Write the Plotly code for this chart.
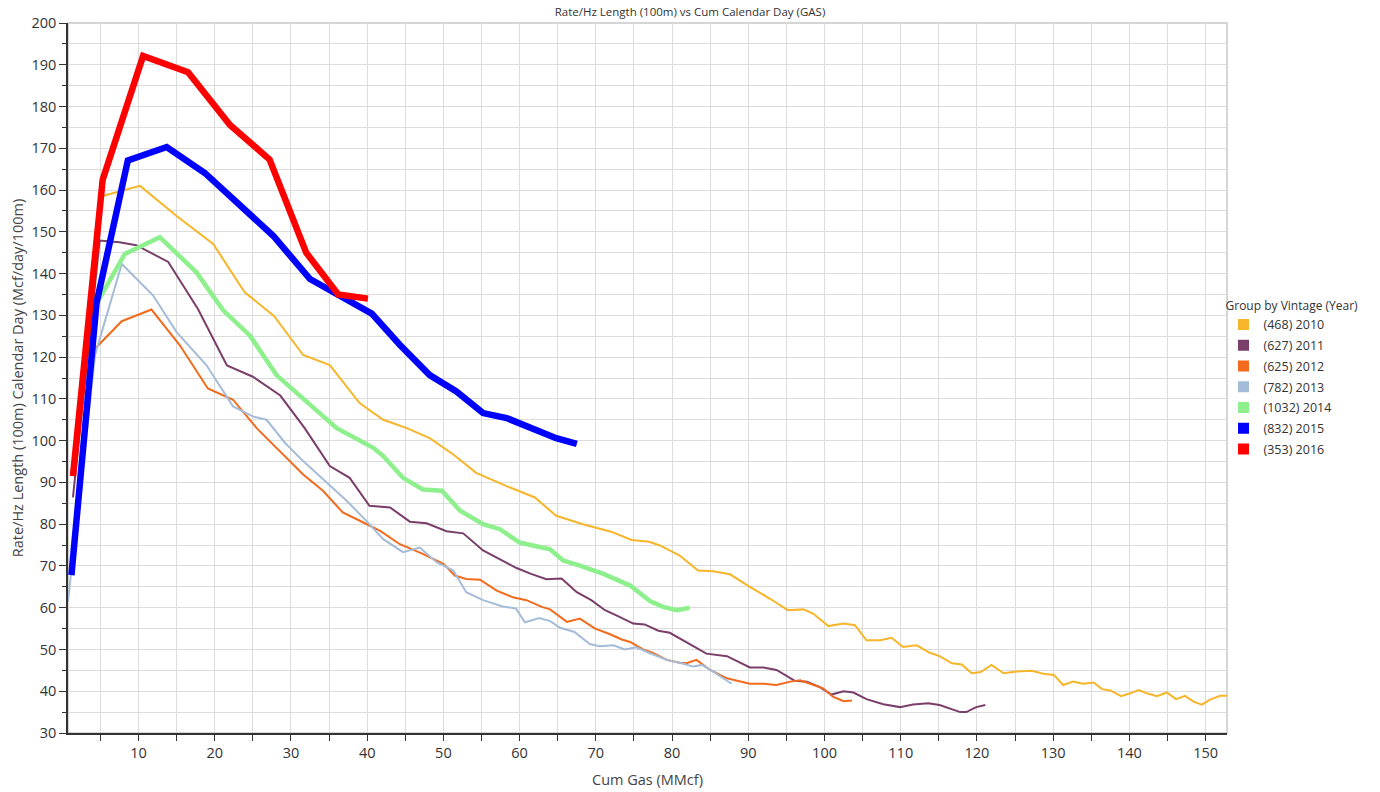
import plotly.graph_objects as go

# ---- data ----
names = ["(468) 2010", "(627) 2011", "(625) 2012", "(782) 2013", "(1032) 2014", "(832) 2015", "(353) 2016"]
colors = ["#F7B52A", "#7A3E6A", "#F26B1D", "#A5BCD8", "#8DF08D", "#0000FF", "#FF0000"]
widths = [2, 2, 2, 2, 4.5, 6.5, 6.5]

x2010 = [5.3, 10.2, 15.0, 19.8, 23.9, 27.8, 31.6, 35.1, 39.0, 42.1, 45.2, 48.2, 51.3, 54.3, 58.3, 62.0, 64.8, 68.3, 72.0, 74.7, 77.0, 78.4, 81.0, 83.4, 85.4, 87.6, 90.2, 92.8, 95.2, 97.2, 98.5, 100.5, 102.5, 104.0, 105.5, 107.3, 108.8, 110.3, 112.1, 113.8, 115.1, 116.7, 118.0, 119.3, 120.5, 121.9, 123.5, 125.2, 127.2, 128.7, 130.1, 131.3, 132.6, 133.9, 135.3, 136.4, 137.5, 138.9, 140.1, 141.2, 142.3, 143.6, 144.9, 146.1, 147.3, 148.4, 149.5, 150.6, 151.9, 152.8]
y2010 = [158.6, 161.0, 153.8, 147.1, 135.6, 129.8, 120.5, 118.1, 109.0, 105.0, 103.0, 100.6, 96.7, 92.3, 89.1, 86.4, 82.0, 80.0, 78.2, 76.2, 75.8, 74.9, 72.5, 68.9, 68.7, 68.0, 65.0, 62.2, 59.4, 59.6, 58.6, 55.6, 56.2, 55.8, 52.2, 52.2, 52.8, 50.6, 51.0, 49.2, 48.4, 46.7, 46.4, 44.3, 44.6, 46.3, 44.3, 44.7, 44.9, 44.2, 43.9, 41.5, 42.3, 41.8, 42.1, 40.5, 40.2, 38.8, 39.5, 40.3, 39.5, 38.8, 39.7, 38.1, 38.9, 37.5, 36.8, 38.0, 38.9, 38.9]

x2011 = [1.4, 4.9, 7.5, 9.7, 13.9, 17.8, 21.6, 25.0, 28.6, 31.8, 35.1, 37.7, 40.3, 43.0, 45.6, 47.8, 50.4, 52.6, 55.2, 57.5, 59.6, 61.5, 63.5, 65.5, 67.5, 69.4, 71.2, 72.9, 74.9, 76.4, 78.2, 79.7, 82.3, 84.5, 87.2, 90.2, 92.0, 93.7, 94.8, 96.1, 97.7, 99.4, 100.9, 102.5, 103.8, 105.5, 107.7, 109.9, 111.6, 113.6, 115.1, 117.8, 118.6, 119.9, 121.1]
y2011 = [86.4, 147.9, 147.5, 146.8, 142.8, 131.5, 118.0, 115.3, 110.8, 103.0, 93.9, 91.1, 84.4, 84.0, 80.6, 80.2, 78.3, 77.8, 73.7, 71.5, 69.5, 68.1, 66.8, 67.0, 63.7, 61.8, 59.4, 58.0, 56.2, 56.0, 54.5, 54.0, 51.4, 49.0, 48.4, 45.7, 45.7, 45.1, 43.9, 42.5, 42.3, 41.0, 39.2, 40.0, 39.7, 38.1, 36.9, 36.2, 36.8, 37.1, 36.7, 35.0, 35.0, 36.2, 36.7]

x2012 = [3.9, 7.8, 11.7, 15.4, 19.1, 22.4, 25.5, 28.1, 31.6, 34.2, 36.8, 39.5, 41.7, 44.3, 47.3, 50.0, 51.5, 53.0, 54.8, 57.0, 59.1, 60.9, 62.9, 64.0, 66.2, 67.9, 69.9, 71.8, 73.4, 74.5, 76.2, 77.5, 79.3, 81.0, 81.9, 83.2, 85.0, 87.2, 88.5, 90.2, 92.0, 93.7, 95.5, 96.8, 98.1, 99.8, 101.1, 102.5, 103.6]
y2012 = [121.3, 128.6, 131.4, 122.9, 112.5, 109.8, 103.0, 98.3, 91.9, 88.0, 82.8, 80.4, 78.4, 75.2, 72.9, 70.5, 67.7, 66.9, 66.7, 64.1, 62.5, 61.8, 60.2, 59.6, 56.6, 57.4, 55.0, 53.7, 52.4, 51.8, 50.0, 49.2, 47.5, 46.8, 46.7, 47.5, 45.1, 43.1, 42.6, 41.8, 41.8, 41.5, 42.3, 42.6, 41.8, 40.7, 38.7, 37.6, 37.8]

x2013 = [0.75, 4.3, 7.8, 11.9, 15.0, 18.9, 22.4, 25.0, 26.8, 29.2, 31.6, 34.2, 37.3, 39.9, 42.1, 44.7, 46.9, 49.1, 51.3, 53.0, 55.2, 57.8, 59.5, 60.7, 62.6, 64.0, 65.3, 67.2, 69.2, 70.5, 72.3, 73.8, 75.3, 77.1, 79.3, 81.2, 82.8, 83.9, 85.4, 86.7, 87.8]
y2013 = [61.5, 120.5, 142.3, 134.8, 126.0, 118.1, 108.2, 105.8, 105.0, 99.5, 95.1, 90.7, 85.6, 80.8, 76.4, 73.3, 74.4, 70.9, 68.9, 63.7, 61.8, 60.3, 59.8, 56.5, 57.5, 56.8, 55.2, 54.2, 51.3, 50.8, 51.0, 50.0, 50.5, 49.1, 47.5, 46.7, 45.9, 46.3, 44.7, 43.1, 41.8]

x2014 = [4.0, 8.2, 12.8, 17.6, 21.1, 24.6, 28.1, 31.6, 36.0, 40.8, 42.1, 44.7, 47.3, 49.8, 52.2, 55.2, 57.4, 60.0, 62.7, 64.0, 65.7, 67.9, 71.0, 74.5, 77.1, 78.8, 80.6, 82.3]
y2014 = [131.2, 144.7, 148.7, 140.3, 131.2, 125.2, 115.7, 110.2, 103.0, 98.3, 96.3, 91.1, 88.3, 88.0, 83.2, 80.0, 78.8, 75.6, 74.4, 74.0, 71.3, 70.1, 68.1, 65.3, 61.6, 60.2, 59.4, 60.0]

x2015 = [1.2, 4.5, 8.6, 13.7, 18.7, 23.5, 27.7, 32.5, 36.2, 40.6, 44.3, 48.2, 51.7, 55.2, 58.3, 61.8, 64.8, 67.5]
y2015 = [67.8, 133.0, 167.1, 170.3, 164.1, 156.2, 149.0, 138.7, 135.0, 130.4, 122.9, 115.7, 111.8, 106.6, 105.4, 103.0, 100.6, 99.2]

x2016 = [1.4, 5.3, 10.6, 16.5, 22.0, 27.2, 32.0, 36.2, 40.1]
y2016 = [91.5, 162.5, 192.1, 188.2, 175.6, 167.3, 145.0, 135.0, 134.0]

xs = [x2010, x2011, x2012, x2013, x2014, x2015, x2016]
ys = [y2010, y2011, y2012, y2013, y2014, y2015, y2016]

FONT = "Open Sans"
fig = go.Figure()
for n, c, w, x, y in zip(names, colors, widths, xs, ys):
    fig.add_trace(go.Scatter(x=x, y=y, mode="lines", name=n, showlegend=False,
                             legendgroup=n, line=dict(color=c, width=w), hoverinfo="x+y+name"))
# legend entries (square swatches)
for n, c in zip(names, colors):
    fig.add_trace(go.Scatter(x=[None], y=[None], mode="markers", name=n, legendgroup=n,
                             marker=dict(symbol="square", size=11, color=c)))

grid = "#DCDCDC"
fig.update_layout(
    width=1380, height=792,
    margin=dict(l=68, r=153, t=23, b=59),
    paper_bgcolor="white", plot_bgcolor="white",
    font=dict(family=FONT, color="#333333", size=14),
    title=dict(text="Rate/Hz Length (100m) vs Cum Calendar Day (GAS)", x=0.5, xanchor="center",
               y=0.985, yanchor="middle", font=dict(size=11.5, color="#333333")),
    legend=dict(title=dict(text="Group by Vintage (Year)", font=dict(size=12)),
                x=0.997, xanchor="left", y=0.618, yanchor="top",
                font=dict(size=12.5), bgcolor="rgba(0,0,0,0)", itemwidth=30,
                tracegroupgap=1.5),
    showlegend=True,
)
fig.update_xaxes(range=[0.75, 152.8], tick0=0, dtick=10, ticks="outside", ticklen=6,
                 tickcolor="#333333", showline=True, linecolor="#333333", linewidth=1.5,
                 showgrid=True, gridcolor=grid, zeroline=False, automargin=False,
                 minor=dict(dtick=5, ticks="outside", ticklen=6, tickcolor="#333333",
                            showgrid=True, gridcolor=grid),
                 tickfont=dict(size=14.5, color="#333333"),
                 title=dict(text="Cum Gas (MMcf)", font=dict(size=14.5, color="#444444"), standoff=14))
fig.update_yaxes(range=[30, 200], tick0=0, dtick=10, ticks="outside", ticklen=7,
                 tickcolor="#333333", showline=True, linecolor="#333333", linewidth=1.5,
                 showgrid=True, gridcolor=grid, zeroline=False, automargin=False,
                 minor=dict(dtick=5, ticks="outside", ticklen=4, tickcolor="#333333",
                            showgrid=True, gridcolor=grid),
                 tickfont=dict(size=14.5, color="#333333"),
                 title=dict(text="Rate/Hz Length (100m) Calendar Day (Mcf/day/100m)",
                            font=dict(size=14.5, color="#444444"), standoff=4))
# light frame on top / right
fig.add_shape(type="rect", xref="paper", yref="paper", x0=0, y0=0, x1=1, y1=1,
              line=dict(color="#C8C8C8", width=1.5), layer="below")

fig.write_html("out.html")
